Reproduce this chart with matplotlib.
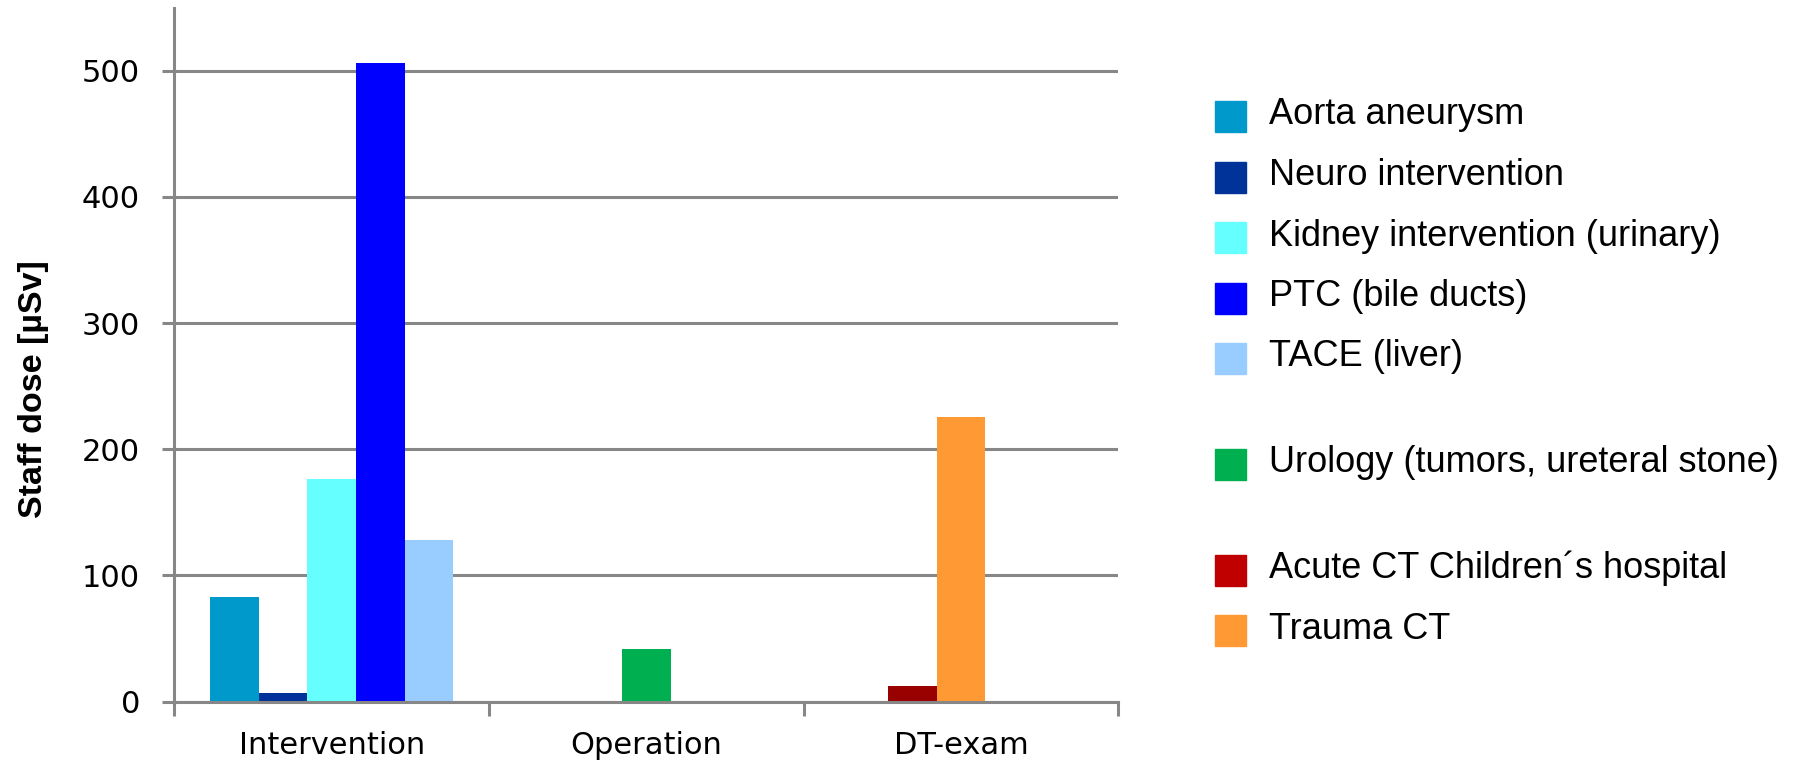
import matplotlib
matplotlib.use("Agg")
import matplotlib.pyplot as plt
from matplotlib.patches import Rectangle


categories = ["Intervention", "Operation", "DT-exam"]
series = ["Aorta aneurysm", "Neuro intervention", "Kidney intervention (urinary)",
          "PTC (bile ducts)", "TACE (liver)", "Urology (tumors, ureteral stone)",
          "Acute CT Children\u00b4s hospital", "Trauma CT"]
values = [83.3, 6.9, 176.7, 506.3, 127.9, 41.5, 12.2, 225.6]
bar_colors = ["#0099CC", "#003399", "#66FFFF", "#0000FF", "#99CCFF",
              "#00B050", "#990000", "#FF9933"]
legend_colors = ["#0099CC", "#003399", "#66FFFF", "#0000FF", "#99CCFF",
                 "#00B050", "#C00000", "#FF9933"]
# which series sit in which category (None = empty slot in the cluster)
groups = [[0, 1, 2, 3, 4], [5], [6, 7, None]]

W, H = 1802, 767
fig = plt.figure(figsize=(W / 100, H / 100), dpi=100)
ax = fig.add_axes([174.3 / W, 65.3 / H, (1118.3 - 174.3) / W, (701.7 - 8.3) / H])

grid_c = "#878787"
bw = 0.1545
for ci, members in enumerate(groups):
    n = len(members)
    for k, si in enumerate(members):
        if si is None:
            continue
        x = ci + (k - (n - 1) / 2) * bw
        ax.bar(x, values[si], width=bw, color=bar_colors[si], zorder=2, linewidth=0)

ax.set_xlim(-0.5, 2.5)
ax.set_ylim(0, 549.4)
ax.set_yticks([0, 100, 200, 300, 400, 500])
ax.yaxis.grid(True, color=grid_c, linewidth=2.2, zorder=0)
ax.set_axisbelow(True)
for s in ["top", "right"]:
    ax.spines[s].set_visible(False)
for s in ["left", "bottom"]:
    ax.spines[s].set_color(grid_c)
    ax.spines[s].set_linewidth(2.2)
    ax.spines[s].set_zorder(3)

ax.tick_params(axis="y", length=8.6, width=2.2, color=grid_c, pad=16,
               labelsize=22, labelcolor="black")
ax.set_xticks([-0.5, 0.5, 1.5, 2.5])
ax.set_xticklabels([])
ax.set_xticks([0, 1, 2], minor=True)
ax.set_xticklabels(categories, minor=True)
ax.tick_params(axis="x", which="major", length=10, width=2.2, color=grid_c)
ax.tick_params(axis="x", which="minor", length=0, pad=21, labelsize=22)

fig.text(34 / W, 1 - 389 / H, "Staff dose [\u00b5Sv]", rotation=90, ha="center",
         va="center", fontsize=24.5, fontweight="bold", family="Liberation Sans")

# legend drawn by hand; blank space before Urology and before Acute CT
row_h = 60.5
row = 0.0
for i, name in enumerate(series):
    if i in (5, 6):
        row += 0.75
    yc = 116.5 + row * row_h
    fig.add_artist(Rectangle((1215 / W, 1 - (yc + 15.5) / H), 31 / W, 31 / H,
                             transform=fig.transFigure, color=legend_colors[i]))
    fig.text(1269 / W, 1 - (yc + 8) / H, name, ha="left", va="baseline",
             fontsize=26, family="Liberation Sans")
    row += 1

fig.savefig("out.png", dpi=100)
